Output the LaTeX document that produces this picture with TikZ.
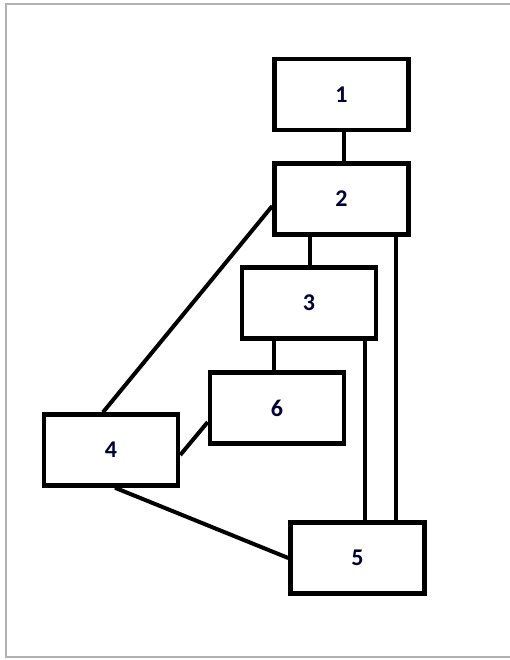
\documentclass[tikz,border=0pt]{standalone}
\usepackage{fontspec}
\setmainfont{Carlito}
\begin{document}
\begin{tikzpicture}[x=1pt, y=-1pt,
	  box/.style={draw, line width=4.5pt, minimum width=134pt, minimum height=71pt, inner sep=0pt, font=\fontsize{24}{28}\selectfont\bfseries, text=black!80!blue},
	  link/.style={line width=4pt}]
	  \useasboundingbox (0,0) rectangle (510,660);
	  %frame of the screenshot
	  \draw[gray!60, line width=2pt] (510,4) -- (6,4) -- (6,657) -- (510,657);
	  \node[box] (b1) at (341.5,94.5) {1};
	  \node[box] (b2) at (341.5,199) {2};
	  \node[box] (b3) at (309,303) {3};
	  \node[box] (b6) at (277,408) {6};
	  \node[box] (b4) at (111,450) {4};
	  \node[box] (b5) at (357.5,558) {5};
	  \draw[link] ([xshift=2.5pt]b1.south) -- ([xshift=2.5pt]b2.north);
	  \draw[link] ([xshift=1pt]b3.north) -- ([xshift=1pt]b3.north |- b2.south);
	  \draw[link] ([xshift=-3pt]b6.north) -- ([xshift=-3pt]b6.north |- b3.south);
	  \draw[link] ([yshift=-7pt]b2.west) -- ([xshift=-8pt]b4.north);
	  \draw[link] ([yshift=-14pt]b6.west) -- ([yshift=-5pt]b4.east);
	  \draw[link] ([xshift=4pt]b4.south) -- (b5.west);
	  \draw[link] ([xshift=-15pt]b2.south east) -- ([xshift=-15pt]b2.south east |- b5.north);
	  \draw[link] ([xshift=-13pt]b3.south east) -- ([xshift=-13pt]b3.south east |- b5.north);
\end{tikzpicture}
\end{document}
